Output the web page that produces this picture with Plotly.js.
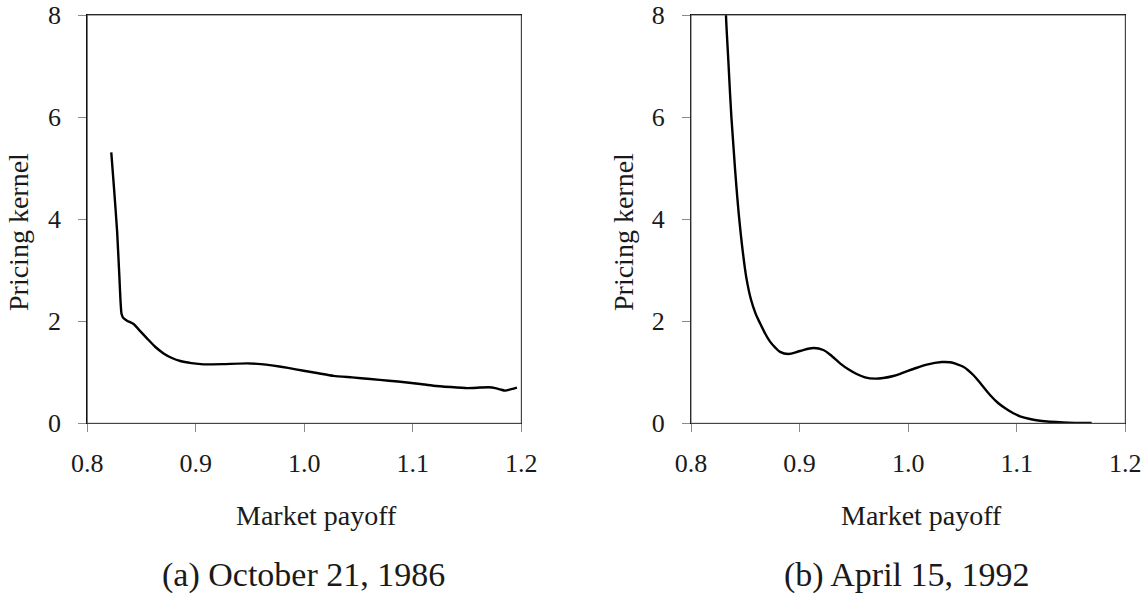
<!DOCTYPE html>
<html>
<head>
<meta charset="utf-8">
<script src="https://cdn.plot.ly/plotly-3.0.1.min.js"></script>
<style>html,body{margin:0;padding:0;background:#fff;}#chart{width:1148px;height:598px;}</style>
</head>
<body>
<div id="chart"></div>
<script>
// ---- data ----
var payoffA = [0.8221, 0.8250, 0.8275, 0.8295, 0.8306, 0.8315, 0.8329, 0.8366, 0.8427, 0.849, 0.855, 0.8625, 0.8703, 0.878, 0.8857, 0.896, 0.9072, 0.925, 0.9472, 0.9600, 0.9717, 0.9850, 0.9994, 1.013, 1.027, 1.044, 1.0608, 1.078, 1.0947, 1.107, 1.119, 1.135, 1.15, 1.162, 1.17, 1.176, 1.181, 1.185, 1.19, 1.196];
var kernelA = [5.31, 4.5, 3.75, 2.9, 2.4, 2.15, 2.07, 2.01, 1.945, 1.80, 1.665, 1.50, 1.37, 1.28, 1.22, 1.18, 1.155, 1.16, 1.175, 1.16, 1.13, 1.085, 1.03, 0.98, 0.93, 0.90, 0.868, 0.835, 0.80, 0.77, 0.737, 0.71, 0.69, 0.70, 0.705, 0.69, 0.66, 0.64, 0.665, 0.70];

var payoffB = [0.8318, 0.8322, 0.8344, 0.8372, 0.8405, 0.844, 0.8475, 0.851, 0.8553, 0.8595, 0.8636, 0.8682, 0.8728, 0.8774, 0.882, 0.8896, 0.9004, 0.9127, 0.9219, 0.9296, 0.9373, 0.9449, 0.9526, 0.9603, 0.9695, 0.9771, 0.9864, 0.9955, 1.0048, 1.0171, 1.031, 1.0386, 1.0447, 1.0508, 1.06, 1.0678, 1.0754, 1.0831, 1.0908, 1.0969, 1.103, 1.1122, 1.1214, 1.143, 1.169];
var kernelB = [8.4, 8.0, 7.1, 6.0, 5.0, 4.1, 3.4, 2.85, 2.42, 2.15, 1.96, 1.763, 1.60, 1.489, 1.40, 1.358, 1.417, 1.475, 1.436, 1.319, 1.175, 1.058, 0.966, 0.901, 0.875, 0.888, 0.927, 0.992, 1.064, 1.149, 1.20, 1.195, 1.16, 1.109, 0.946, 0.750, 0.555, 0.392, 0.274, 0.196, 0.137, 0.084, 0.051, 0.018, 0.005];

var xTicks = [0.8, 0.9, 1.0, 1.1, 1.2];
var xTickLabels = ["0.8", "0.9", "1.0", "1.1", "1.2"];
var yTicks = [0, 2, 4, 6, 8];
var yTickLabels = ["0", "2", "4", "6", "8"];
var xTitle = "Market payoff";
var yTitle = "Pricing kernel";
var captions = ["(a) October 21, 1986", "(b) April 15, 1992"];

// ---- layout helpers ----
var W = 1148, H = 598;
function px(x){ return x / W; }
function py(y){ return 1 - y / H; }
var FONT = 'Liberation Serif, Times New Roman, serif';
var TXT = '#1a1a1a';
var xr = [0.8, 1.2], yr = [0, 8];
var domA = [px(87.3), px(521.3)], domB = [px(691), px(1125.3)];
var domY = [py(423.3), py(15)];
var TICKC = '#8a8a8a';

function mainAxis(dom, anchor, range, vals, text, standoff){
  return {domain: dom, anchor: anchor, range: range, showgrid: false, zeroline: false,
    showline: true, mirror: true, linecolor: '#000', linewidth: 1.2,
    ticks: 'outside', ticklen: 8, tickwidth: 1, tickcolor: TICKC,
    tickvals: vals, ticktext: text, ticklabelstandoff: standoff,
    tickfont: {family: FONT, size: 26, color: TXT}};
}

// plot-area frame (axis-domain relative, not data)
function frame(xa, ya){
  return {type: 'rect', xref: xa + ' domain', yref: ya + ' domain', x0: 0, x1: 1, y0: 0, y1: 1,
    line: {color: '#555', width: 1}, fillcolor: 'rgba(0,0,0,0)', layer: 'above'};
}

var lineStyle = {color: '#000', width: 2.4};
var traces = [
  {x: payoffA, y: kernelA, xaxis: 'x', yaxis: 'y', mode: 'lines', line: Object.assign({shape: 'spline', smoothing: 0.5}, lineStyle), hoverinfo: 'skip'},
  {x: payoffB, y: kernelB, xaxis: 'x2', yaxis: 'y2', mode: 'lines', line: Object.assign({shape: 'spline', smoothing: 1}, lineStyle), hoverinfo: 'skip'}
];

function ann(text, x, y, size, angle){
  return {text: text, xref: 'paper', yref: 'paper', x: px(x), y: py(y), xanchor: 'center', yanchor: 'middle',
    showarrow: false, textangle: angle || 0, font: {family: FONT, size: size, color: TXT}};
}

var layout = {
  width: W, height: H, margin: {l: 0, r: 0, t: 0, b: 0},
  paper_bgcolor: '#fff', plot_bgcolor: '#fff', showlegend: false,
  font: {family: FONT, color: TXT},
  xaxis: mainAxis(domA, 'y', xr, xTicks, xTickLabels, 8),
  yaxis: mainAxis(domY, 'x', yr, yTicks, yTickLabels, 12),
  xaxis2: mainAxis(domB, 'y2', xr, xTicks, xTickLabels, 8),
  yaxis2: mainAxis(domY, 'x2', yr, yTicks, yTickLabels, 12),
  shapes: [frame('x', 'y'), frame('x2', 'y2')],
  annotations: [
    ann(xTitle, 316, 515, 28),
    ann(xTitle, 921, 515, 28),
    ann(yTitle, 19, 232, 28, -90),
    ann(yTitle, 624, 232, 28, -90),
    ann(captions[0], 303, 575, 34),
    ann(captions[1], 907, 575, 34)
  ]
};

Plotly.newPlot('chart', traces, layout, {displayModeBar: false});
</script>
</body>
</html>
